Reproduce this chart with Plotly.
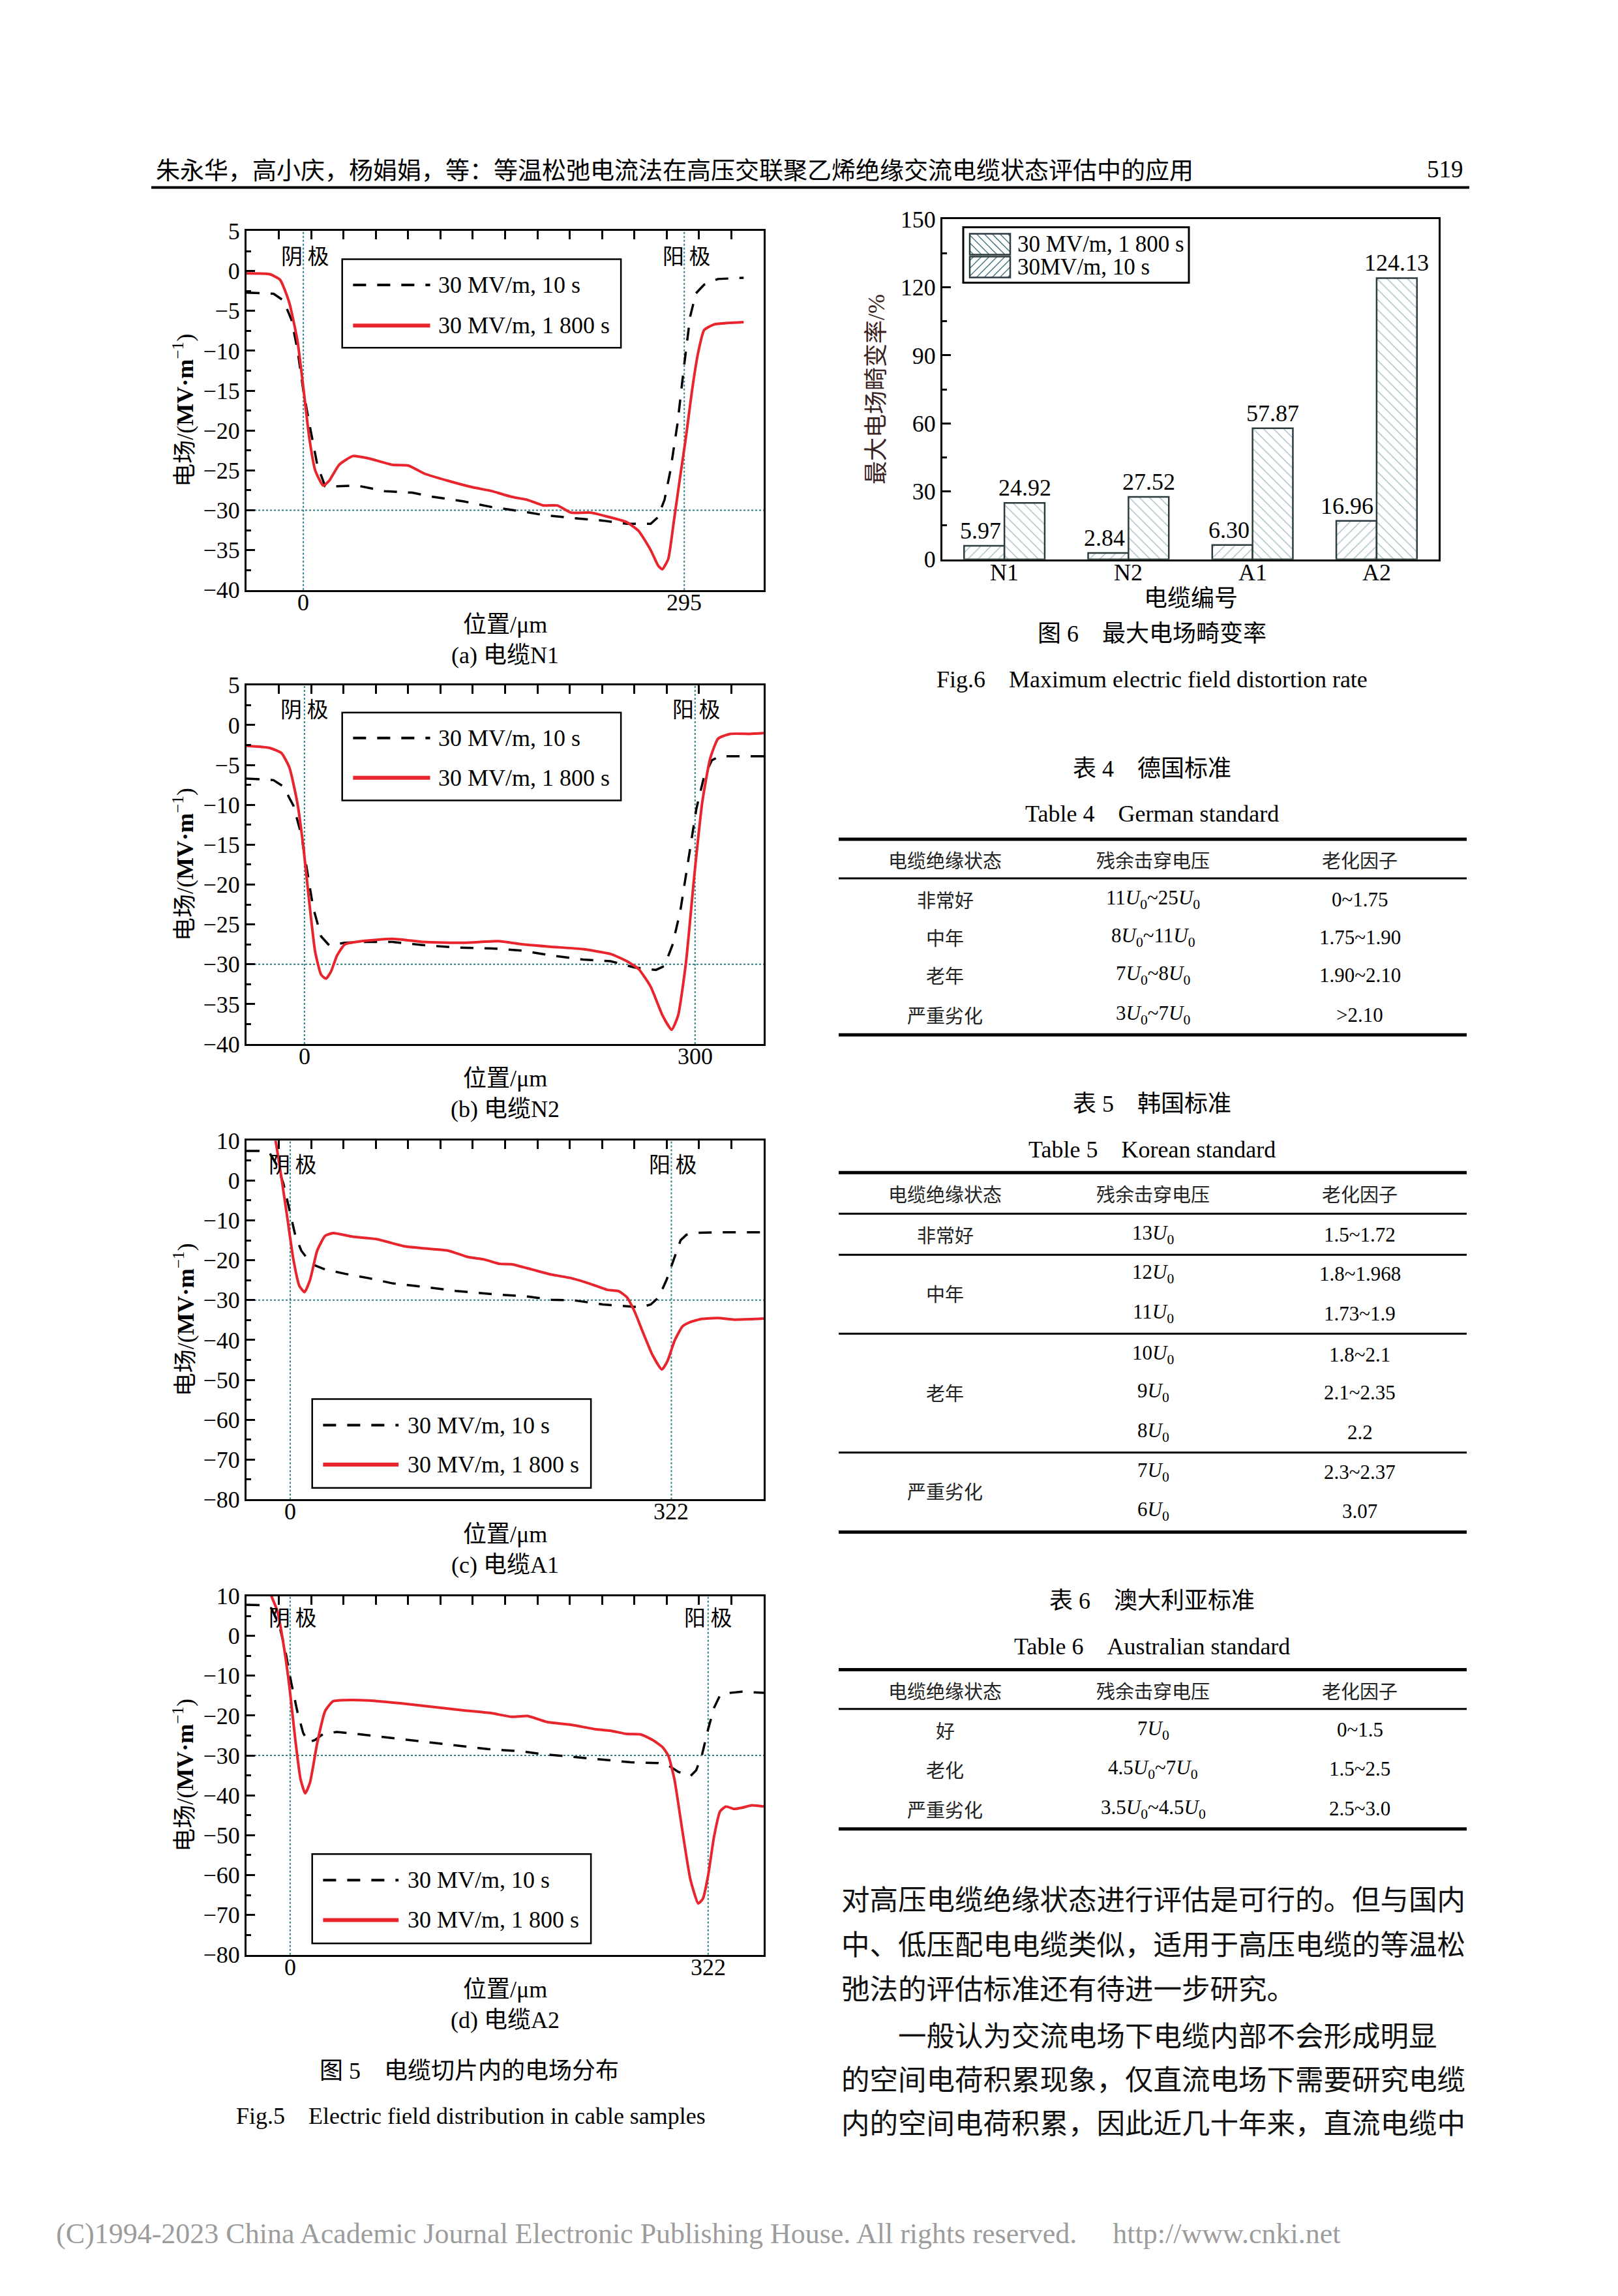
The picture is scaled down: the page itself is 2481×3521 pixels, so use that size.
import plotly.graph_objects as go

W, H = 2481, 3521
def fx(p): return (p - 7) / W
def fy(p): return 1 - (1.012 * p - 28) / H

MIX = "Liberation Serif, Times New Roman, Noto Sans CJK SC, serif"
CJK = "Noto Sans CJK SC, sans-serif"
RED = "#e8242c"
DOT = "#2f7f86"

# ---------------- data : Fig.5 electric field profiles ----------------
n1_1800_x = [-44, -26, -18, -11, -4.6, 0, 4.6, 9.2, 15.4, 20, 27.7, 38.4, 50.7, 69, 81.4, 93.7, 112, 130.6, 146, 161, 173.6, 186, 196.7, 207.4, 222.8, 238, 250.5, 259.7, 269, 275, 278, 282.6, 287, 291.9, 296.5, 301, 305.8, 310.4, 318, 330, 341]
n1_1800_y = [-0.3, -0.4, -1.1, -3.9, -8.7, -14.6, -20.9, -25, -26.9, -26.3, -24.3, -23.2, -23.5, -24.3, -24.4, -25.4, -26.3, -27.1, -27.6, -28.3, -28.7, -29.4, -29.4, -30.3, -30.3, -30.9, -31.5, -32.6, -35, -37, -37.4, -36.1, -31.3, -25.7, -20.6, -15, -10.2, -7.4, -6.7, -6.5, -6.4]
n1_10_x = [-44, -23, -15.4, -9.2, -4.6, 0, 4.6, 10.8, 16.9, 26, 41.5, 63, 84.5, 100, 124.5, 146, 167.5, 186, 210.5, 232, 250.5, 269, 274.4, 279.7, 284.3, 289.8, 295, 299.6, 304, 310.4, 321, 341]
n1_10_y = [-2.7, -2.85, -3.7, -6.1, -9.8, -15, -19.1, -24.3, -27, -27, -26.9, -27.6, -27.8, -28.3, -28.9, -29.6, -30.1, -30.6, -31, -31.3, -31.7, -31.7, -30.9, -28.7, -25, -19.1, -11.7, -5.7, -2.8, -1.7, -1, -0.85]

n2_1800_x = [-44.5, -26.8, -17.7, -11.6, -5.5, -0.9, 3.7, 8.2, 12.8, 16.5, 20.4, 25, 31, 43.3, 67.7, 92, 122.6, 150, 168, 189.6, 214, 235, 247.6, 256.7, 265.9, 275, 282, 287, 293, 299.4, 305.5, 311.6, 317.7, 327, 342, 352.7]
n2_1800_y = [-2.6, -2.86, -3.5, -5.3, -9.7, -15.2, -22.2, -28.4, -31.3, -31.8, -30.9, -28.9, -27.5, -27.1, -26.8, -27.2, -27.3, -27.1, -27.5, -27.8, -28.1, -28.7, -29.6, -30.6, -32.8, -36.4, -38.2, -36.4, -29.8, -18.9, -9.7, -4.2, -1.7, -1.1, -1.1, -1.0]
n2_10_x = [-44.5, -23.8, -16.2, -8.5, -2.4, 2.1, 6.7, 12.8, 18.9, 31, 46.3, 67.7, 92, 116.5, 144, 168, 189.6, 214, 235, 253.7, 270, 276.5, 282.6, 288.7, 294.8, 301, 307, 313, 319, 336, 352.7]
n2_10_y = [-6.7, -6.9, -7.7, -10.1, -13.75, -18.5, -22.9, -26.5, -27.6, -27.3, -27.2, -27.2, -27.6, -27.9, -28, -28.3, -28.9, -29.4, -29.6, -30.4, -30.7, -30.2, -27.6, -23.3, -17, -10.5, -6.4, -4.4, -3.9, -3.9, -3.9]

a1_1800_x = [-14, -12.4, -7.4, -2.3, 2.7, 7.7, 12.1, 16.8, 22.8, 29.5, 36.2, 53, 73, 96.6, 120, 133.5, 150.3, 163.7, 177, 187, 204, 220.7, 237.5, 254.3, 267.7, 277.8, 284.5, 291, 297.9, 306.3, 314, 318.7, 324.7, 331.4, 338, 348, 361.6, 375, 388, 400]
a1_1800_y = [12, 10, 0.7, -9.6, -19.8, -26.4, -28, -24.9, -17.6, -13.9, -13.2, -14.1, -14.7, -16.5, -17.2, -17.6, -19.2, -19.8, -20.9, -21, -22.3, -23.6, -24.5, -26, -27.4, -27.8, -29.3, -32.9, -38, -43.9, -47.4, -45.3, -40.2, -36.6, -35.5, -34.7, -34.5, -34.9, -34.8, -34.6]
a1_10_x = [-36.9, -24, -17.4, -10.7, -5.7, -0.7, 4.4, 9.4, 17.8, 29.5, 46.3, 66.4, 86.5, 113.4, 140, 170.4, 200.6, 220.7, 240.9, 264.3, 287.8, 296.2, 304.6, 311.3, 318, 324.7, 329.8, 334.8, 344.9, 361.6, 400]
a1_10_y = [7.4, 7.4, 6.9, 3.6, -0.8, -7.4, -13.9, -17.6, -20.9, -22.3, -23.4, -24.5, -25.8, -26.7, -27.7, -28.5, -29.1, -29.9, -30.1, -31.1, -31.6, -31.8, -31.1, -29.3, -24.9, -19.1, -15, -13.6, -13.1, -13, -13]

a2_1800_x = [-16, -14.4, -9.8, -5.2, -0.6, 4, 8, 11.6, 15.3, 20.8, 26.9, 33, 42.2, 60.6, 85, 109.5, 134, 155.4, 170.6, 182.9, 198, 216.5, 234.9, 247, 259.3, 270, 279.2, 286.9, 291.4, 296, 302, 308.3, 314.4, 318, 322, 326.6, 331.2, 335.8, 341.9, 348, 355.7, 364.8]
a2_1800_y = [12, 10, 6.2, -1.9, -12.6, -26.1, -35.9, -39.5, -36.8, -27, -18.9, -16.4, -16.1, -16.2, -16.9, -17.8, -18.7, -19.4, -20.3, -20.1, -21.6, -22.3, -23.4, -23.8, -24.6, -24.7, -26.1, -27.9, -30.1, -35.9, -48.5, -61, -67.1, -65.9, -60.1, -50.3, -44, -42.8, -43.4, -43.1, -42.5, -42.8]
a2_10_x = [-33.6, -20.5, -14.4, -8.3, -3.7, 0.9, 5.5, 10, 14, 19.3, 25.4, 36, 54.4, 79, 103.4, 127.8, 152.3, 176.8, 195, 216.5, 237.9, 262.4, 283.8, 291.4, 299, 308.3, 312.8, 317.4, 322, 326.6, 331.2, 338.8, 348, 364.8]
a2_10_y = [7.8, 7.7, 6.9, 2.6, -3.7, -11.8, -18.9, -24.3, -26.7, -26.1, -24.6, -24.1, -24.7, -25.6, -26.5, -27.5, -28.4, -28.9, -29.7, -30.3, -31, -31.7, -31.9, -32.5, -34.1, -35.2, -33.7, -29.7, -23.4, -18, -14.9, -14.3, -14, -14.3]

series_names = ["30 MV/m, 10 s", "30 MV/m, 1 800 s"]

# ---------------- data : Fig.6 distortion rate ----------------
cables = ["N1", "N2", "A1", "A2"]
rate_10s = [5.97, 2.84, 6.30, 16.96]
rate_1800s = [24.92, 27.52, 57.87, 124.13]
bar_names = ["30MV/m, 10 s", "30 MV/m, 1 800 s"]

# ---------------- data : tables ----------------
tbl_head = ["电缆绝缘状态", "残余击穿电压", "老化因子"]
U0 = "<i>U</i><sub>0</sub>"
t4_state = ["非常好", "中年", "老年", "严重劣化"]
t4_volt = [f"11{U0}~25{U0}", f"8{U0}~11{U0}", f"7{U0}~8{U0}", f"3{U0}~7{U0}"]
t4_fact = ["0~1.75", "1.75~1.90", "1.90~2.10", "&gt;2.10"]
t5_state = ["非常好", "中年", "老年", "严重劣化"]
t5_volt = [f"13{U0}", f"12{U0}", f"11{U0}", f"10{U0}", f"9{U0}", f"8{U0}", f"7{U0}", f"6{U0}"]
t5_fact = ["1.5~1.72", "1.8~1.968", "1.73~1.9", "1.8~2.1", "2.1~2.35", "2.2", "2.3~2.37", "3.07"]
t6_state = ["好", "老化", "严重劣化"]
t6_volt = [f"7{U0}", f"4.5{U0}~7{U0}", f"3.5{U0}~4.5{U0}"]
t6_fact = ["0~1.5", "1.5~2.5", "2.5~3.0"]

body_lines = [
    "对高压电缆绝缘状态进行评估是可行的。但与国内",
    "中、低压配电电缆类似，适用于高压电缆的等温松",
    "弛法的评估标准还有待进一步研究。",
    "一般认为交流电场下电缆内部不会形成明显",
    "的空间电荷积累现象，仅直流电场下需要研究电缆",
    "内的空间电荷积累，因此近几十年来，直流电缆中",
]

fig = go.Figure()
shapes = []
ann = []

def add_text(x, y, text, size, family=MIX, xanchor="center", color="black", angle=0, xref="paper", yref="paper",
             yanchor="middle", xshift=0, yshift=0):
    ann.append(dict(x=x, y=y, xref=xref, yref=yref, text=text, showarrow=False,
                    xanchor=xanchor, yanchor=yanchor, textangle=angle, xshift=xshift, yshift=yshift,
                    font=dict(size=size, family=family, color=color)))

# ---------------- Fig.5 panels ----------------
panels = [
    dict(n=1, top=(355, 905), xr=[-44, 356.5], yr=[-40, 5], dt=5, mn=2.5, elec=295,
         red=(n1_1800_x, n1_1800_y), blk=(n1_10_x, n1_10_y), sub="(a) 电缆N1",
         cath=(1, 2.0), anod=(296.5, 2.0),
         box=(0.185, 0.724, 0.922, 0.675), rows=(0.85, 0.737), ln=(0.206, 0.355), tx=0.368),
    dict(n=2, top=(1051, 1601), xr=[-44.5, 352.7], yr=[-40, 5], dt=5, mn=2.5, elec=300,
         red=(n2_1800_x, n2_1800_y), blk=(n2_10_x, n2_10_y), sub="(b) 电缆N2",
         cath=(0, 2.15), anod=(301, 2.15),
         box=(0.185, 0.724, 0.924, 0.679), rows=(0.853, 0.742), ln=(0.206, 0.355), tx=0.368),
    dict(n=3, top=(1749, 2299), xr=[-36.9, 400], yr=[-80, 10], dt=10, mn=5, elec=322,
         red=(a1_1800_x, a1_1800_y), blk=(a1_10_x, a1_10_y), sub="(c) 电缆A1",
         cath=(2, 4.3), anod=(323, 4.3),
         box=(0.127, 0.666, 0.28, 0.032), rows=(0.207, 0.097), ln=(0.148, 0.294), tx=0.309),
    dict(n=4, top=(2447, 2997), xr=[-33.6, 364.8], yr=[-80, 10], dt=10, mn=5, elec=322,
         red=(a2_1800_x, a2_1800_y), blk=(a2_10_x, a2_10_y), sub="(d) 电缆A2",
         cath=(1.8, 4.8), anod=(322, 4.8),
         box=(0.127, 0.666, 0.281, 0.032), rows=(0.208, 0.097), ln=(0.148, 0.294), tx=0.309),
]

PX0, PX1 = 377, 1170
layout_axes = {}
for p in panels:
    n = p["n"]
    xs = "" if n == 1 else str(n)
    xa, ya = "x" + xs, "y" + xs
    t, b = p["top"]
    layout_axes["xaxis" + xs] = dict(
        domain=[fx(PX0), fx(PX1)], anchor=ya, range=p["xr"], showticklabels=False,
        ticks="", showline=True, mirror=True, linecolor="black", linewidth=3,
        showgrid=False, zeroline=False)
    layout_axes["yaxis" + xs] = dict(
        domain=[fy(b), fy(t)], anchor=xa, range=p["yr"], dtick=p["dt"], tick0=0,
        ticks="inside", ticklen=13, tickwidth=2.5, tickcolor="black",
        minor=dict(dtick=p["mn"], ticks="inside", ticklen=7, tickwidth=2.5, tickcolor="black"),
        showline=True, mirror=True, linecolor="black", linewidth=3,
        showgrid=False, zeroline=False, tickfont=dict(size=36, family=MIX, color="black"))
    # top ticks overlay
    tn = n + 4
    layout_axes["xaxis" + str(tn)] = dict(
        overlaying=xa, anchor=ya, side="top", range=[0, 16], dtick=1, tick0=0,
        ticks="inside", ticklen=13, tickwidth=2.5, tickcolor="black",
        showticklabels=False, showgrid=False, zeroline=False, showline=False)
    fig.add_trace(go.Scatter(x=[0, 16], y=[p["yr"][0], p["yr"][0]], xaxis="x" + str(tn), yaxis=ya,
                             mode="lines", line=dict(width=0), opacity=0, hoverinfo="skip", showlegend=False))

    # reference dotted lines
    for xv in (0, p["elec"]):
        shapes.append(dict(type="line", xref=xa, yref=ya + " domain", x0=xv, x1=xv, y0=0, y1=1,
                           line=dict(color=DOT, width=2, dash="dot"), layer="below"))
        add_text(xv, fy(b + 19), str(xv), 36, xref=xa)
    shapes.append(dict(type="line", xref=xa + " domain", yref=ya, x0=0, x1=1, y0=-30, y1=-30,
                       line=dict(color=DOT, width=2, dash="dot"), layer="below"))

    fig.add_trace(go.Scatter(x=p["blk"][0], y=p["blk"][1], xaxis=xa, yaxis=ya, mode="lines",
                             name=series_names[0], showlegend=False,
                             line=dict(color="black", width=3.5, dash="20px,17px")))
    fig.add_trace(go.Scatter(x=p["red"][0], y=p["red"][1], xaxis=xa, yaxis=ya, mode="lines",
                             name=series_names[1], showlegend=False,
                             line=dict(color=RED, width=4, shape="spline", smoothing=0.5)))

    # electrode labels
    add_text(p["cath"][0], p["cath"][1], "阴 极", 33, family=CJK, xref=xa, yref=ya)
    add_text(p["anod"][0], p["anod"][1], "阳 极", 33, family=CJK, xref=xa, yref=ya)

    # manual legend
    bx0, bx1, by0, by1 = p["box"]
    shapes.append(dict(type="rect", xref=xa + " domain", yref=ya + " domain", x0=bx0, x1=bx1,
                       y0=by0, y1=by1, line=dict(color="black", width=2.5), fillcolor="white", layer="above"))
    l0, l1 = p["ln"]
    shapes.append(dict(type="line", xref=xa + " domain", yref=ya + " domain", x0=l0, x1=l1,
                       y0=p["rows"][0], y1=p["rows"][0], line=dict(color="black", width=4, dash="20px,17px"), layer="above"))
    shapes.append(dict(type="line", xref=xa + " domain", yref=ya + " domain", x0=l0, x1=l1,
                       y0=p["rows"][1], y1=p["rows"][1], line=dict(color=RED, width=6), layer="above"))
    for r, nm in zip(p["rows"], series_names):
        add_text(p["tx"], r, nm, 36, xanchor="left", xref=xa + " domain", yref=ya + " domain")

    # axis titles & sub-caption
    cx = fx((PX0 + PX1) / 2)
    add_text(fx(281), fy((t + b) / 2), "电场/(<b>MV·m</b><sup>−1</sup>)", 36, angle=-90)
    add_text(cx, fy(b + 53), "位置/μm", 36)
    add_text(cx, fy(b + 100), p["sub"], 36)

add_text(fx(718), fy(3175), "图 5　电缆切片内的电场分布", 36)
add_text(fx(721), fy(3244), "Fig.5　Electric field distribution in cable samples", 36)

# ---------------- Fig.6 bar chart ----------------
BX0, BX1, BT, BB = 1444, 2205, 337, 858
layout_axes["xaxis9"] = dict(domain=[fx(BX0), fx(BX1)], anchor="y9", range=[-0.5, 3.5], type="category",
                             ticks="", showticklabels=False, showline=True, mirror=True, linecolor="black", linewidth=3,
                             showgrid=False, zeroline=False)
layout_axes["yaxis9"] = dict(domain=[fy(BB), fy(BT)], anchor="x9", range=[0, 150], dtick=30, tick0=0,
                             ticks="inside", ticklen=13, tickwidth=2.5, tickcolor="black",
                             minor=dict(dtick=15, ticks="inside", ticklen=7, tickwidth=2.5, tickcolor="black"),
                             showline=True, mirror=True, linecolor="black", linewidth=3,
                             showgrid=False, zeroline=False, tickfont=dict(size=36, family=MIX, color="black"))
HATCH = "#4f8088"
BAR_EDGE = "#2b3b3d"
PSIZE = 11
fig.add_trace(go.Bar(x=cables, y=rate_10s, xaxis="x9", yaxis="y9", name=bar_names[0], showlegend=False,
                     marker=dict(color="white", line=dict(color=BAR_EDGE, width=2.5),
                                 pattern=dict(shape="/", fgcolor=HATCH, bgcolor="white", size=PSIZE, solidity=0.13))))
fig.add_trace(go.Bar(x=cables, y=rate_1800s, xaxis="x9", yaxis="y9", name=bar_names[1], showlegend=False,
                     marker=dict(color="white", line=dict(color=BAR_EDGE, width=2.5),
                                 pattern=dict(shape="\\", fgcolor=HATCH, bgcolor="white", size=PSIZE, solidity=0.13))))
# value labels (above all bars)
half_bar = (BX1 - BX0) / len(cables) * 0.65 / 2 / 2
for c, v in zip(cables, rate_10s):
    add_text(c, v, f"{v:.2f}", 36, xref="x9", yref="y9", xanchor="right", yanchor="bottom", xshift=-3, yshift=1)
for c, v in zip(cables, rate_1800s):
    add_text(c, v, f"{v:.2f}", 36, xref="x9", yref="y9", yanchor="bottom", xshift=half_bar, yshift=1)
for c in cables:
    add_text(c, fy(BB + 20), c, 36, xref="x9")
add_text(fx(1343), fy((BT + BB) / 2), "最大电场畸变率/%", 36, angle=-90, color="#3a2424")
add_text(fx((BX0 + BX1) / 2), fy(BB + 60), "电缆编号", 36)
add_text(fx(1766), fy(972), "图 6　最大电场畸变率", 36)
add_text(fx(1766), fy(1042), "Fig.6　Maximum electric field distortion rate", 36)

# bar legend (drawn by hand: wide hatched keys)
LB = (1476, 1822, 349, 434)
shapes.append(dict(type="rect", xref="paper", yref="paper", x0=fx(LB[0]), x1=fx(LB[1]), y0=fy(LB[3]), y1=fy(LB[2]),
                   line=dict(color="black", width=3), fillcolor="white"))

def hatch_path(x0, x1, y0, y1, s, kind):
    segs = []
    if kind == "/":
        c = x0 + y0 + s / 2
        while c < x1 + y1:
            xa_, xb_ = max(x0, c - y1), min(x1, c - y0)
            if xb_ > xa_:
                segs.append(f"M{fx(xa_)},{fy(c - xa_)} L{fx(xb_)},{fy(c - xb_)}")
            c += s
    else:
        c = x0 - y1 + s / 2
        while c < x1 - y0:
            xa_, xb_ = max(x0, c + y0), min(x1, c + y1)
            if xb_ > xa_:
                segs.append(f"M{fx(xa_)},{fy(xa_ - c)} L{fx(xb_)},{fy(xb_ - c)}")
            c += s
    return " ".join(segs)

keys = [(bar_names[1], "\\", 359, 391), (bar_names[0], "/", 394, 426)]
for name, kind, ky0, ky1 in keys:
    kx0, kx1 = 1486, 1548
    shapes.append(dict(type="path", xref="paper", yref="paper", path=hatch_path(kx0, kx1, ky0, ky1, 12, kind),
                       line=dict(color=HATCH, width=1.6)))
    shapes.append(dict(type="rect", xref="paper", yref="paper", x0=fx(kx0), x1=fx(kx1), y0=fy(ky1), y1=fy(ky0),
                       line=dict(color=BAR_EDGE, width=2.5)))
    add_text(fx(1557), fy((ky0 + ky1) / 2), name, 35, xanchor="left")

# ---------------- header / footer ----------------
add_text(fx(236), fy(260), "朱永华，高小庆，杨娟娟，等：等温松弛电流法在高压交联聚乙烯绝缘交流电缆状态评估中的应用", 37, family=CJK, xanchor="left")
add_text(fx(2245), fy(260), "519", 37, xanchor="right")
shapes.append(dict(type="line", xref="paper", yref="paper", x0=fx(231), x1=fx(2252), y0=fy(288), y1=fy(288),
                   line=dict(color="black", width=4)))
add_text(fx(83), fy(3424), "(C)1994-2023 China Academic Journal Electronic Publishing House. All rights reserved.　 http://www.cnki.net",
         44, xanchor="left", color="#9c9c9c")

# ---------------- tables ----------------
TX0, TX1 = 1285, 2248
COLS = [1448, 1767, 2084]
def rule(y, w):
    shapes.append(dict(type="line", xref="paper", yref="paper", x0=fx(TX0), x1=fx(TX1), y0=fy(y), y1=fy(y),
                       line=dict(color="black", width=w)))

def head(y):
    for c, h in zip(COLS, tbl_head):
        add_text(fx(c), fy(y), h, 29, family=CJK, color="#222222")

# Table 4
add_text(fx(1766), fy(1179), "表 4　德国标准", 36)
add_text(fx(1766), fy(1248), "Table 4　German standard", 36)
rule(1287, 5); head(1318); rule(1347, 3)
for yy, s, v, f in zip([1379, 1437, 1495, 1556], t4_state, t4_volt, t4_fact):
    add_text(fx(COLS[0]), fy(yy), s, 29, family=CJK, color="#222222")
    add_text(fx(COLS[1]), fy(yy), v, 31)
    add_text(fx(COLS[2]), fy(yy), f, 31)
rule(1587, 5)

# Table 5
add_text(fx(1766), fy(1693), "表 5　韩国标准", 36)
add_text(fx(1766), fy(1763), "Table 5　Korean standard", 36)
rule(1798, 5); head(1830); rule(1861, 3)
for yy, s in zip([1893, 1983, 2135, 2286], t5_state):
    add_text(fx(COLS[0]), fy(yy), s, 29, family=CJK, color="#222222")
for yy, v, f in zip([1893, 1953, 2014, 2077, 2135, 2196, 2257, 2317], t5_volt, t5_fact):
    add_text(fx(COLS[1]), fy(yy), v, 31)
    add_text(fx(COLS[2]), fy(yy), f, 31)
rule(1924, 3); rule(2045, 3); rule(2227, 3); rule(2349, 5)

# Table 6
add_text(fx(1766), fy(2454), "表 6　澳大利亚标准", 36)
add_text(fx(1766), fy(2524), "Table 6　Australian standard", 36)
rule(2560, 5); head(2591); rule(2620, 3)
for yy, s, v, f in zip([2652, 2712, 2773], t6_state, t6_volt, t6_fact):
    add_text(fx(COLS[0]), fy(yy), s, 29, family=CJK, color="#222222")
    add_text(fx(COLS[1]), fy(yy), v, 31)
    add_text(fx(COLS[2]), fy(yy), f, 31)
rule(2804, 5)

# body text
for i, (yy, line) in enumerate(zip([2910, 2979, 3047, 3119, 3186, 3253], body_lines)):
    x0 = 1374 if i == 3 else 1287
    add_text(fx(x0), fy(yy), line, 43.5, family=CJK, xanchor="left", color="#111111")

fig.update_layout(
    width=W, height=H, autosize=False, margin=dict(l=0, r=0, t=0, b=0),
    paper_bgcolor="white", plot_bgcolor="white",
    barmode="group", bargap=0.35, bargroupgap=0,
    showlegend=False,
    shapes=shapes, annotations=ann,
    **layout_axes,
)
fig.write_html("out.html")
